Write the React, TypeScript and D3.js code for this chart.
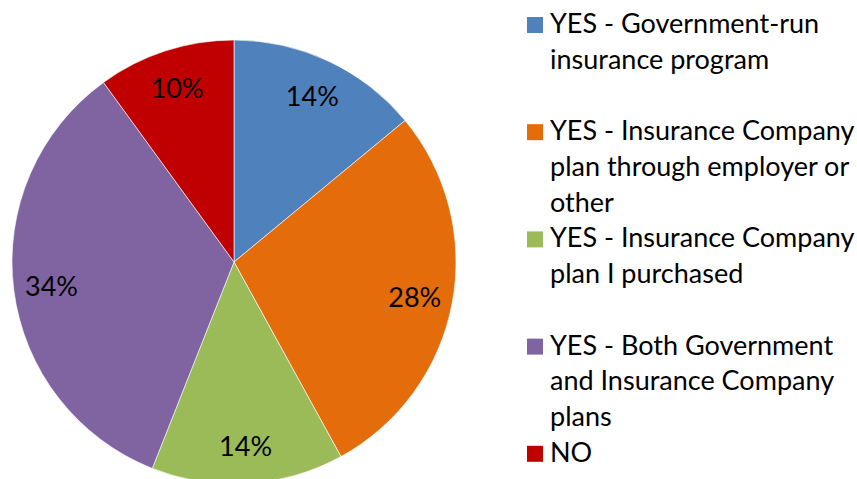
import React from "react";
import * as d3 from "d3";

const categories = [
  "YES - Government-run insurance program",
  "YES - Insurance Company plan through employer or other",
  "YES - Insurance Company plan I purchased",
  "YES - Both Government and Insurance Company plans",
  "NO",
];
const values = [14, 28, 14, 34, 10];
const colors = ["#4F81BD", "#E46C0A", "#9BBB59", "#8064A2", "#C00000"];
const legendLines = [
  ["YES - Government-run", "insurance program"],
  ["YES - Insurance Company", "plan through employer or", "other"],
  ["YES - Insurance Company", "plan I purchased"],
  ["YES - Both Government", "and Insurance Company", "plans"],
  ["NO"],
];

const W = 857;
const H = 479;
const cx = 234;
const cy = 262;
const R = 222;
const labelR = 184;
const FONT = "Lato, 'Open Sans', sans-serif";

export default function App() {
  const pie = d3.pie<number>().sort(null).value((d) => d);
  const arcs = pie(values);
  const arc = d3.arc<d3.PieArcDatum<number>>().innerRadius(0).outerRadius(R);
  const labelArc = d3
    .arc<d3.PieArcDatum<number>>()
    .innerRadius(labelR)
    .outerRadius(labelR);
  const total = d3.sum(values);
  const fmt = (v: number) => `${Math.round((v / total) * 100)}%`;

  const legendX = 527;
  const legendY0 = 33;
  const slot = 107.2;
  const lineH = 35.8;

  return (
    <svg
      width={W}
      height={H}
      style={{ position: "absolute", left: 0, top: 0, background: "#fff" }}
    >
      <g transform={`translate(${cx},${cy})`}>
        {arcs.map((a, i) => (
          <path
            key={categories[i]}
            d={arc(a) || ""}
            fill={colors[i]}
            stroke="#fff"
            strokeWidth={0.6}
          />
        ))}
        {arcs.map((a, i) => {
          const [x, y] = labelArc.centroid(a);
          return (
            <text
              key={"l" + i}
              x={x}
              y={y}
              textAnchor="middle"
              dominantBaseline="central"
              fontFamily={FONT}
              fontSize={27}
              fill="#000"
            >
              {fmt(a.data)}
            </text>
          );
        })}
      </g>
      <g>
        {legendLines.map((lines, i) => {
          const by = legendY0 + i * slot;
          return (
            <g key={"lg" + i}>
              <rect
                x={legendX}
                y={by - 16}
                width={16}
                height={16}
                fill={colors[i]}
              />
              {lines.map((t, j) => (
                <text
                  key={j}
                  x={550}
                  y={by + j * lineH}
                  fontFamily={FONT}
                  fontSize={27}
                  fill="#000"
                >
                  {t}
                </text>
              ))}
            </g>
          );
        })}
      </g>
    </svg>
  );
}
